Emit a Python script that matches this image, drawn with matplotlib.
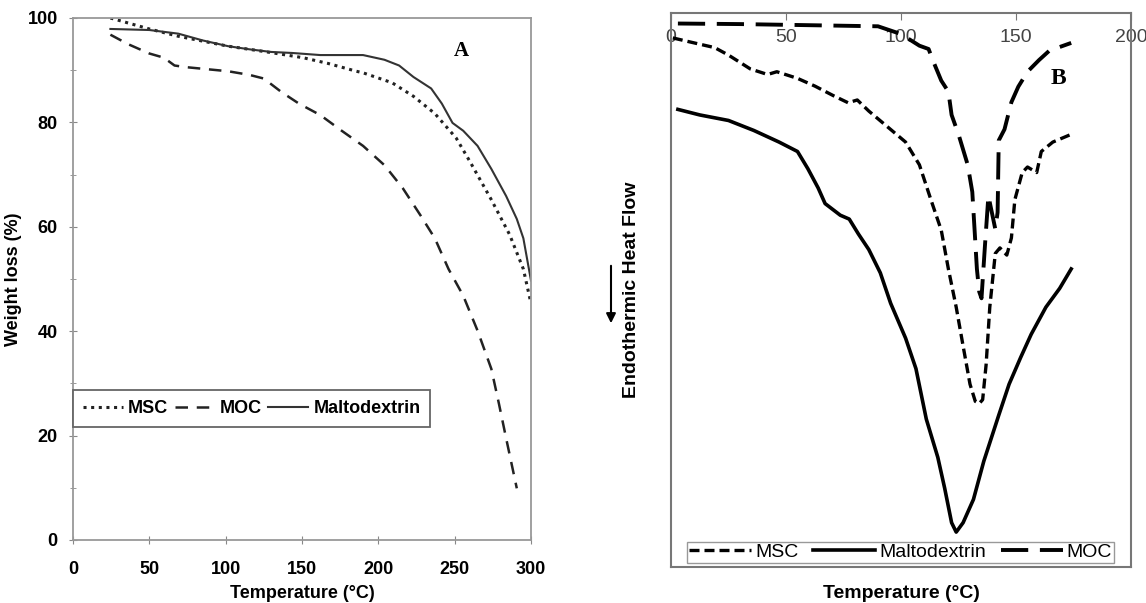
import matplotlib
matplotlib.use("Agg")
import matplotlib.pyplot as plt
from matplotlib.ticker import MultipleLocator
from matplotlib.patches import FancyArrowPatch

# Panel A: TGA curves (temperature in C, weight %)
msc_a_t = [24.5, 50, 69, 101.6, 127, 150.6, 167, 185.6, 190, 209, 223, 237, 251, 260, 274, 286, 295, 300]
msc_a_w = [100, 97.9, 96.5, 94.6, 93.5, 92.4, 91.3, 89.8, 89.5, 87.6, 85.0, 81.7, 77.0, 72.5, 65.2, 58.5, 51.9, 45.3]

moc_a_t = [24.5, 36, 50, 59.5, 66.5, 73.5, 87.5, 101.6, 115.6, 125, 136.6, 148, 162, 176, 190, 204, 216,
           227.6, 237, 246, 255.6, 265, 274, 279, 283.7, 290.7]
moc_a_w = [96.8, 95.0, 93.2, 92.4, 90.9, 90.6, 90.2, 89.8, 89.1, 88.4, 85.8, 83.6, 81.4, 78.4, 75.5, 71.8, 67.4,
           62.2, 57.8, 51.9, 46.8, 40.1, 32.8, 26.1, 19.5, 9.9]

malto_a_t = [24.5, 50, 69, 85, 101.6, 115.6, 129.6, 143.6, 162, 190, 204, 213.6, 223, 234.6, 241.6, 248.6,
             255.6, 265, 274, 283.7, 290.7, 295, 300]
malto_a_w = [97.9, 97.7, 97.0, 95.7, 94.6, 94.0, 93.5, 93.3, 92.9, 92.9, 92.0, 90.9, 88.7, 86.5, 83.6, 79.9,
             78.4, 75.5, 71.1, 65.9, 61.5, 57.8, 49.7]

# Panel B: DSC curves (temperature in C, heat flow in arbitrary units)
msc_b_t = [0.8, 8, 19, 25, 34.5, 42, 46, 55, 62.6, 70.5, 77, 81, 86, 94, 102, 108, 113, 117.5, 120.6, 124,
           127, 130, 132.3, 134, 135.5, 137, 138.6, 141, 143, 146, 148, 149.5, 152.7, 155, 159, 161, 166, 174]
msc_b_h = [95.5, 94.8, 93.75, 92.4, 89.9, 88.9, 89.4, 88.2, 86.8, 85.1, 83.8, 84.3, 82.3, 79.5, 76.7, 72.6,
           66.3, 60.8, 53.8, 46.9, 39.9, 33.0, 29.9, 29.5, 30.2, 36.5, 46.9, 56.6, 57.6, 56.3, 59.4, 66.3,
           71.2, 72.2, 71.2, 75.0, 76.7, 78.1]

malto_b_t = [3, 12.5, 25, 36, 47, 55, 59.5, 64, 67, 73.6, 77.5, 81.5, 86, 91, 95.5, 102, 106.5, 111, 116,
             119, 122, 124, 127, 131.5, 136, 142.5, 147, 152, 156.6, 163, 169, 174]
malto_b_h = [82.6, 81.6, 80.6, 78.8, 76.7, 75.0, 71.9, 68.4, 65.6, 63.5, 62.8, 60.1, 57.3, 53.1, 47.6, 41.3,
             35.8, 26.7, 19.8, 14.2, 8.0, 6.3, 8.0, 12.2, 19.1, 27.4, 33.0, 37.8, 42.0, 46.9, 50.3, 53.8]

moc_b_t = [3, 30, 60, 90, 100, 108, 112, 114, 117.5, 120.6, 122, 125, 129, 131, 132, 133, 134, 135, 136.5,
           138, 141, 142, 142.5, 145, 148, 151, 155, 160, 164.5, 174]
moc_b_h = [98.1, 98.0, 97.8, 97.6, 96.2, 94.1, 93.5, 91.3, 87.8, 85.8, 81.6, 78.1, 72.6, 67.7, 60.8, 53.8,
           49.7, 48.5, 58.0, 67.0, 61.0, 64.0, 77.0, 79.0, 83.9, 86.7, 89.4, 91.5, 93.2, 94.6]

plt.rcParams['font.family'] = ['Liberation Sans', 'DejaVu Sans']

W, H = 1146, 603
fig = plt.figure(figsize=(W / 100, H / 100), dpi=100)

# ---- panel A ----
ax1 = fig.add_axes([73 / W, 1 - 540 / H, 458 / W, 522 / H])
ax1.plot(msc_a_t, msc_a_w, color='#222222', lw=2.2, linestyle=(0, (1, 1.5)), label='MSC')
ax1.plot(moc_a_t, moc_a_w, color='#222222', lw=1.8, linestyle=(0, (5, 3.5)), label='MOC')
ax1.plot(malto_a_t, malto_a_w, color='#333333', lw=1.5, label='Maltodextrin')
ax1.set_xlim(0, 300)
ax1.set_ylim(0, 100)
ax1.xaxis.set_major_locator(MultipleLocator(50))
ax1.yaxis.set_major_locator(MultipleLocator(20))
ax1.yaxis.set_minor_locator(MultipleLocator(10))
for s in ax1.spines.values():
    s.set_color('#999999')
    s.set_linewidth(1.3)
ax1.tick_params(which='both', direction='inout', color='#888888', length=6)
ax1.tick_params(which='minor', length=4)
ax1.tick_params(labelsize=13)
ax1.tick_params(axis='x', pad=12)
ax1.tick_params(axis='y', pad=8)
for lab in ax1.get_xticklabels() + ax1.get_yticklabels():
    lab.set_fontweight('bold')
ax1.set_xlabel('Temperature (°C)', fontsize=13, fontweight='bold', labelpad=5)
ax1.set_ylabel('Weight loss (%)', fontsize=13, fontweight='bold', labelpad=4)
leg1 = ax1.legend(loc='lower left', bbox_to_anchor=(0, 0.2165), ncol=3,
                  borderaxespad=0, fancybox=False, framealpha=1, edgecolor='#666666', handlelength=2.2,
                  columnspacing=0.35, handletextpad=0.3, borderpad=0.55,
                  prop={'size': 13, 'weight': 'bold'})
leg1.get_frame().set_linewidth(1.3)
fig.text(461 / W, 1 - 51 / H, 'A', ha='center', va='center',
         fontsize=15, fontweight='bold', family='Liberation Serif')

# ---- panel B ----
ax2 = fig.add_axes([671 / W, 1 - 567 / H, 460 / W, 554 / H])
ax2.plot(msc_b_t, msc_b_h, color='black', lw=2.4, linestyle=(0, (3, 1.5)), label='MSC')
ax2.plot(malto_b_t, malto_b_h, color='black', lw=2.6, label='Maltodextrin')
ax2.plot(moc_b_t, moc_b_h, color='black', lw=2.8, linestyle=(0, (7, 3)), label='MOC')
ax2.set_xlim(0, 200)
ax2.set_ylim(0, 100)
ax2.xaxis.set_major_locator(MultipleLocator(50))
ax2.set_yticks([])
for s in ax2.spines.values():
    s.set_color('#777777')
    s.set_linewidth(1.5)
ax2.tick_params(axis='x', top=True, bottom=False, labeltop=True, labelbottom=False,
                direction='in', pad=-24, length=5, color='#777777', labelsize=14,
                labelcolor='#444444')
ax2.set_xlabel('Temperature (°C)', fontsize=14, fontweight='bold', labelpad=13)
ax2.set_ylabel('Endothermic Heat Flow', fontsize=14, fontweight='bold', labelpad=22)
leg2 = ax2.legend(loc='lower left', bbox_to_anchor=(0.035, 0.007, 0.928, 0.045), mode='expand',
                  ncol=3, borderaxespad=0, fancybox=False, framealpha=1, edgecolor='#999999',
                  handlelength=3.2, handletextpad=0.2, borderpad=0.1, prop={'size': 14})
fig.text(1058 / W, 1 - 79 / H, 'B', ha='center', va='center',
         fontsize=17, fontweight='bold', family='Liberation Serif')

fig.add_artist(FancyArrowPatch(
    (611 / W, 1 - 263 / H), (611 / W, 1 - 326 / H), transform=fig.transFigure,
    arrowstyle='-|>', mutation_scale=14, color='black', lw=1.5))

fig.savefig('out.png', dpi=100)
